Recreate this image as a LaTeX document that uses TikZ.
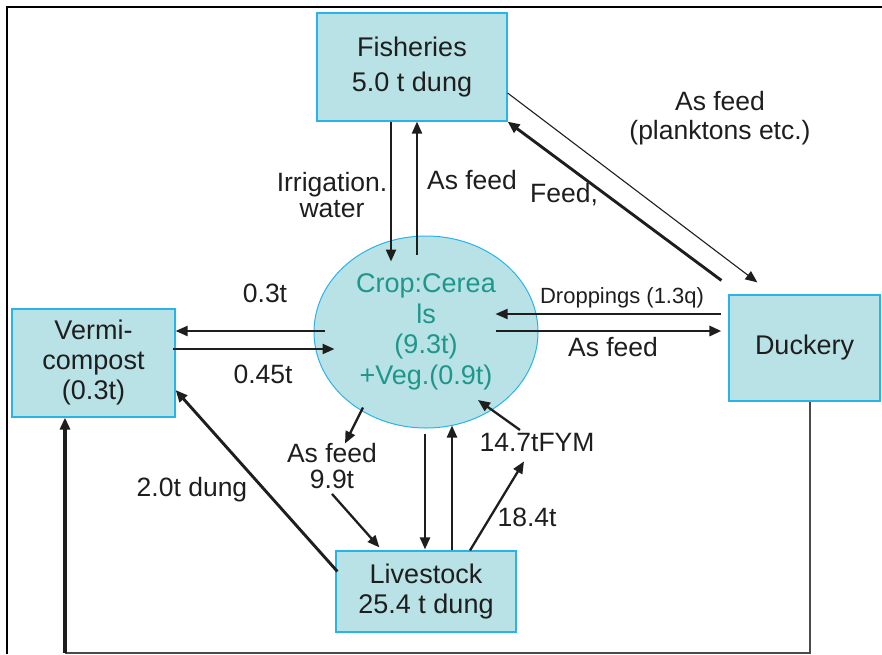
\documentclass[tikz,border=0pt]{standalone}
\usepackage{fontspec}
\setmainfont{Liberation Sans}
\usetikzlibrary{arrows.meta,shapes.geometric,calc}
\definecolor{boxfill}{RGB}{185,226,230}
\definecolor{boxline}{RGB}{40,180,232}
\definecolor{cropText}{RGB}{30,150,140}
\definecolor{ink}{RGB}{30,30,30}
\begin{document}
\begin{tikzpicture}[x=1pt,y=-1pt,
  unit/.style={draw=boxline, fill=boxfill, line width=1.2pt, align=center,
    font=\fontsize{27}{30}\selectfont, inner sep=0pt, text=ink},
  lab/.style={font=\fontsize{26.5}{26}\selectfont, text=ink, align=center, inner sep=0pt},
  arr/.style={draw=ink, line width=2.3pt, -{Triangle[length=12pt,width=10pt]}},
  thickarr/.style={arr, line width=2.9pt},
  thinarr/.style={arr, line width=1.1pt},
  frame/.style={draw=black, line width=1.5pt}
]
\useasboundingbox (0,0) rectangle (882,654);
% frame
\draw[frame] (7,654) -- (7,7) -- (882,7);

% nodes
\node[unit, minimum width=190, minimum height=108] (fish) at (412,67) {Fisheries\\[5pt]5.0 t dung};
\node[unit, minimum width=163, minimum height=108] (vermi) at (93.5,363) {Vermi-\\compost\\(0.3t)};
\node[unit, minimum width=151, minimum height=106] (duck) at (804.5,348) {Duckery};
\node[unit, minimum width=180, minimum height=81] (live) at (426,591.5) {Livestock\\25.4 t dung};
\node[ellipse, draw=boxline, fill=boxfill, line width=1pt, minimum width=224, minimum height=192,
  inner sep=0pt, align=center, text=cropText, font=\fontsize{27}{30.5}\selectfont] (crop) at (426,332)
  {Crop:Cerea\\ls\\(9.3t)\\+Veg.(0.9t)};

% labels
\node[lab] (lirr) at (332,195) {Irrigation.\\water};
\node[lab] (lfeedup) at (472,180) {As feed};
\node[lab] (lplank) at (720,118) {As feed\\[3pt](planktons etc.)};
\node[lab] (lfeedc) at (564,195) {Feed,};
\node[lab] (l03) at (265,293) {0.3t};
\node[lab] (l045) at (263,374) {0.45t};
\node[lab, font=\fontsize{22}{24}\selectfont] (ldrop) at (622,298) {Droppings (1.3q)};
\node[lab] (lasduck) at (613,347) {As feed};
\node[lab] (l99) at (332,466) {As feed\\9.9t};
\node[lab] (l20) at (192,490) {2.0t dung};
\node[lab] (lfym) at (537,442) {14.7tFYM};
\node[lab] (l184) at (527,517) {18.4t};

% connectors
\draw[arr] ($(fish.south)+(-21,0)$) -- ($(crop.north)+(-35,26)$);
\draw[arr] ($(crop.north)+(-9,19)$) -- ($(fish.south)+(5,0)$);
\draw[thickarr] ($(duck.north west)+(-7,-14)$) -- (fish.south east);
\draw[thinarr] ($(fish.east)+(0,26)$) -- ($(duck.north west)+(29,-12)$);
\draw[arr] ($(crop.west)+(11,-1)$) -- ($(vermi.east)+(0,-32)$);
\draw[arr] ($(vermi.east)+(-3,-14)$) -- ($(crop.west)+(21,17)$);
\draw[arr, line width=1.8pt] ($(duck.west)+(-7,-34)$) -- ($(crop.east)+(-43,-18)$);
\draw[thickarr] ($(crop.east)+(-43,-1)$) -- ($(duck.west)+(-7,-17)$);
\draw[arr] ($(crop.south)+(-63,-21)$) -- ($(crop.south)+(-81,15)$);
\draw[arr] ($(l99.south)+(0,5)$) -- ($(live.north west)+(44,-3)$);
\draw[arr] ($(crop.south)+(-1,5)$) -- ($(live.north)+(-1,-1)$);
\draw[arr] ($(live.north)+(26,0)$) -- ($(crop.south)+(26,-3)$);
\draw[arr] ($(live.north)+(44,0)$) -- ($(live.north)+(98,-89)$);
\draw[arr] ($(crop.center)+(94,98)$) -- ($(crop.center)+(52,68)$);
\draw[thickarr] ($(live.west)+(2,-20)$) -- ($(vermi.east)+(0,27)$);
\coordinate (loopc) at (65,653);
\draw[draw=ink!80, line width=1.8pt] ($(duck.south)+(5.5,0)$) |- (loopc);
\draw[arr, line width=3.2pt] (loopc) -- (loopc |- vermi.south);
\end{tikzpicture}
\end{document}
